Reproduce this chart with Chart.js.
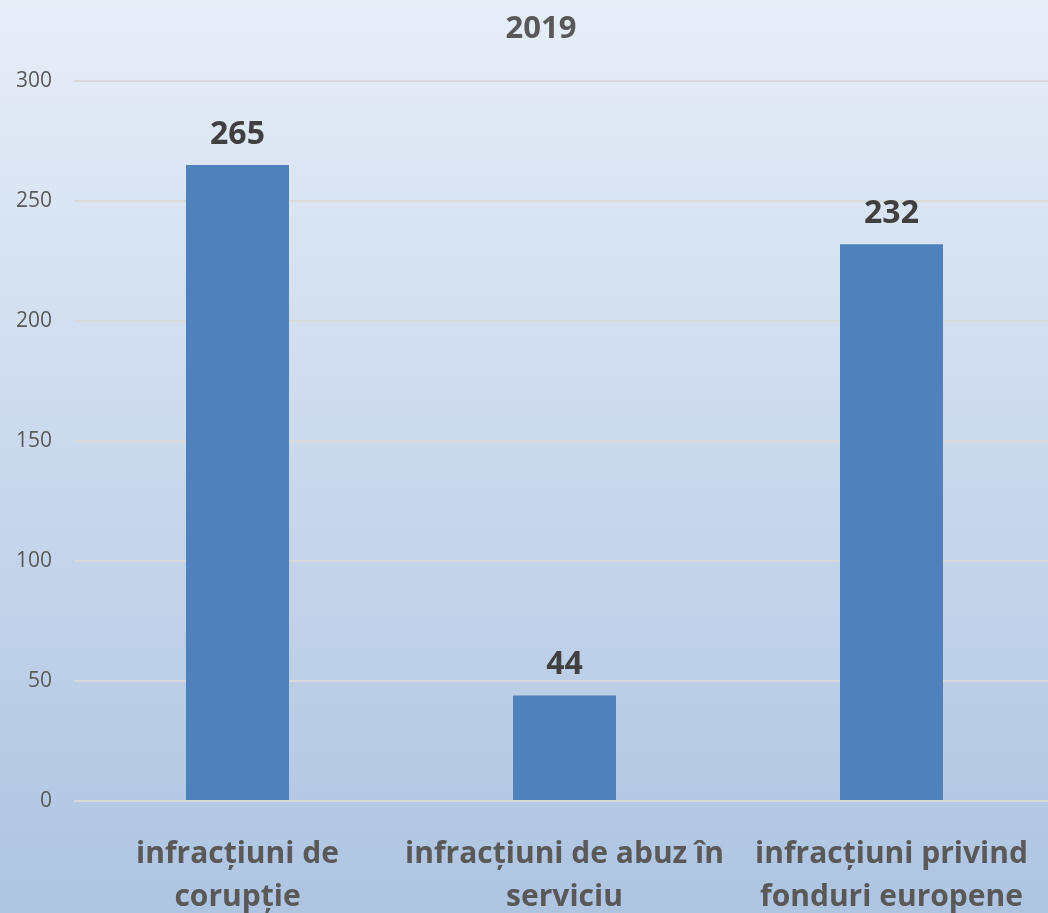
<!DOCTYPE html>
<html>
<head>
<meta charset="utf-8">
<script src="https://cdn.jsdelivr.net/npm/chart.js@4"></script>
<style>
  html, body { margin: 0; padding: 0; overflow: hidden; }
  /* canvas is a bit wider than the window: the plot runs past the right edge,
     as in the original */
  #wrap { width: 1082px; height: 913px; }
</style>
</head>
<body>
<div id="wrap"><canvas id="myChart"></canvas></div>
<script>
const categories = [
    ['infracțiuni de', 'corupție'],
    ['infracțiuni de abuz în', 'serviciu'],
    ['infracțiuni privind', 'fonduri europene']
];
const values = [265, 44, 232];
const yTicks = [0, 50, 100, 150, 200, 250, 300];
const chartTitle = '2019';

const fontName = '"Open Sans", sans-serif';

// gradient background + title (title sits a bit right of centre)
const bgPlugin = {
    id: 'bg',
    beforeDraw(chart) {
        const c = chart.ctx;
        const g = c.createLinearGradient(0, 0, 0, chart.height);
        g.addColorStop(0, '#e7eef8');
        g.addColorStop(1, '#aec4e1');
        c.save();
        c.fillStyle = g;
        c.fillRect(0, 0, chart.width, chart.height);
        c.font = 'bold 31px ' + fontName;
        c.fillStyle = '#595959';
        c.textAlign = 'center';
        c.textBaseline = 'alphabetic';
        c.fillText(chartTitle, 541, 38);
        c.restore();
    }
};

// value labels above the bars
const labelPlugin = {
    id: 'valueLabels',
    afterDatasetsDraw(chart) {
        const c = chart.ctx;
        const meta = chart.getDatasetMeta(0);
        c.save();
        c.font = 'bold 32px ' + fontName;
        c.fillStyle = '#404040';
        c.textAlign = 'center';
        c.textBaseline = 'alphabetic';
        meta.data.forEach((bar, i) => {
            c.fillText(values[i], bar.x, bar.y - 21);
        });
        c.restore();
    }
};

const ctx = document.getElementById('myChart');

new Chart(ctx, {
    type: 'bar',
    data: {
        labels: categories,
        datasets: [{
            data: values,
            backgroundColor: '#4f81bd',
            borderWidth: 0,
            barPercentage: 0.315,
            categoryPercentage: 1
        }]
    },
    options: {
        responsive: true,
        maintainAspectRatio: false,
        animation: false,
        layout: { padding: { left: 0, top: 81, bottom: 0, right: 27 } },
        plugins: {
            legend: { display: false },
            tooltip: { enabled: false },
            title: { display: false }
        },
        scales: {
            x: {
                grid: { display: false },
                border: { display: false },
                afterFit(scale) { scale.height = 112; },
                ticks: {
                    color: '#595959',
                    font: { family: fontName, size: 30, weight: 'bold', lineHeight: '43px' },
                    padding: 24,
                    maxRotation: 0,
                    autoSkip: false
                }
            },
            y: {
                min: 0,
                max: 300,
                afterBuildTicks(scale) {
                    scale.ticks = yTicks.map(v => ({ value: v }));
                },
                afterFit(scale) { scale.width = 74; },
                grid: { color: '#d9d9d9', lineWidth: 2, drawTicks: false },
                border: { display: false },
                ticks: {
                    color: '#595959',
                    font: { family: fontName, size: 21 },
                    padding: 22
                }
            }
        }
    },
    plugins: [bgPlugin, labelPlugin]
});
</script>
</body>
</html>
